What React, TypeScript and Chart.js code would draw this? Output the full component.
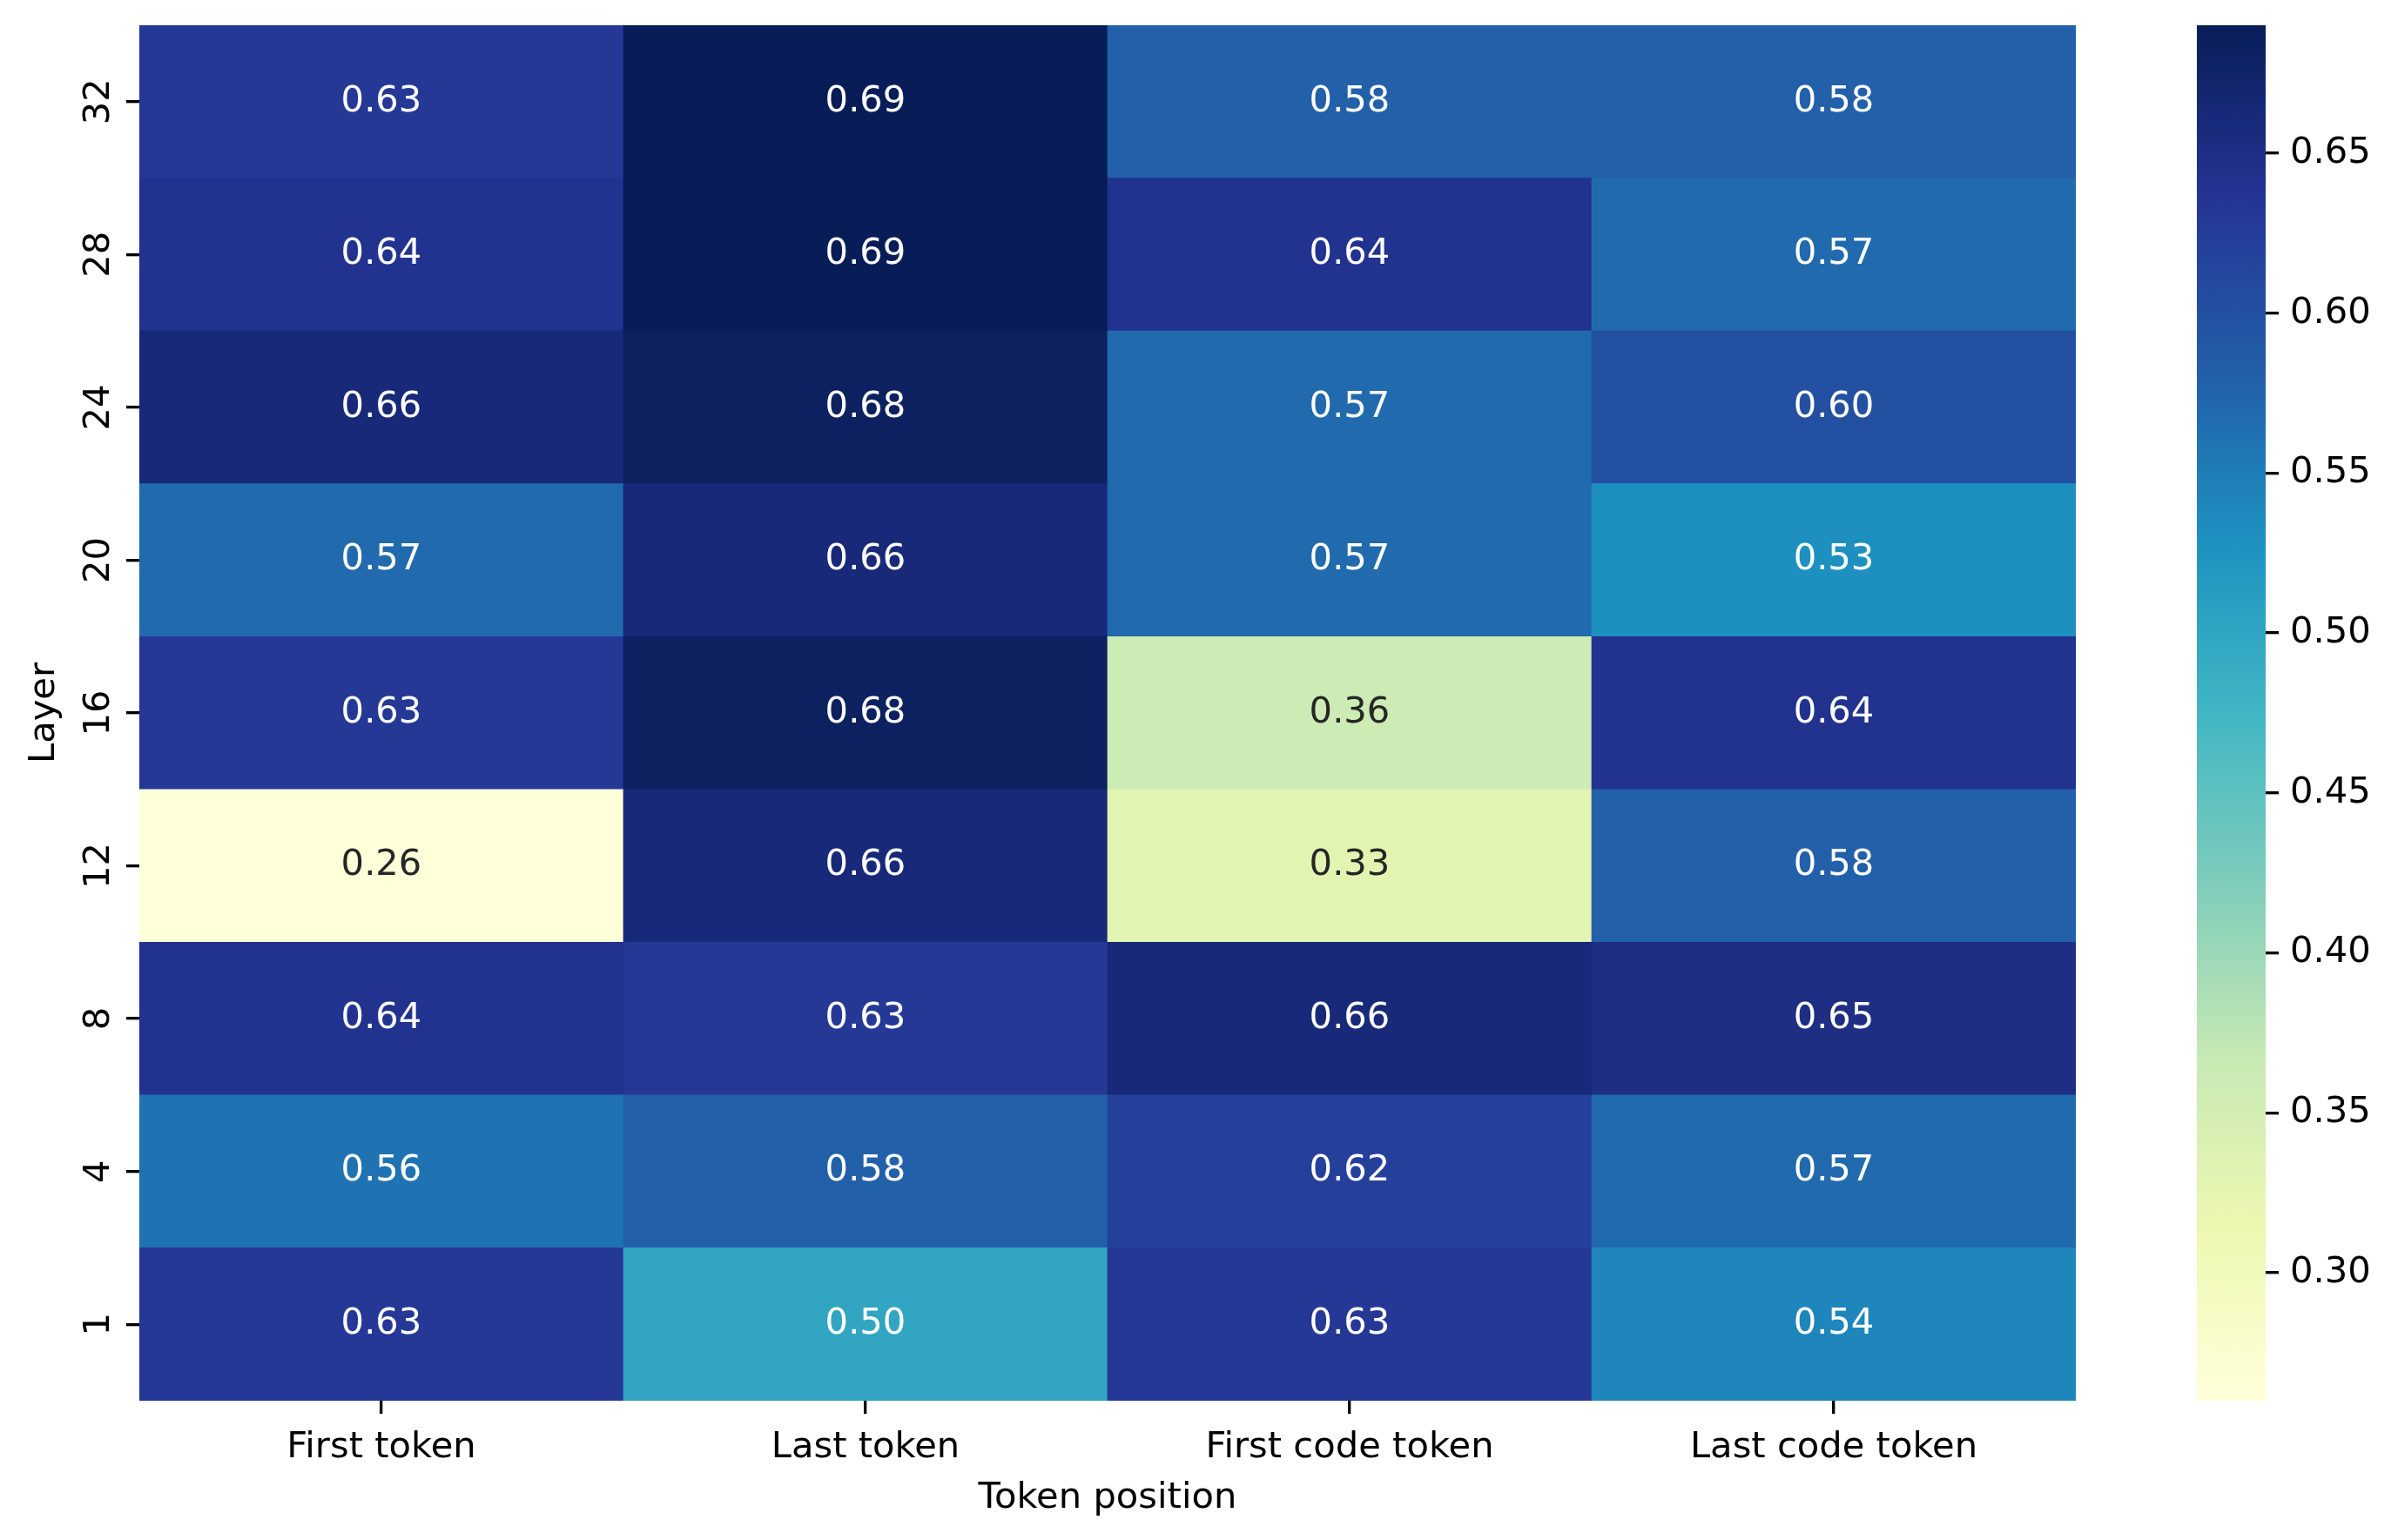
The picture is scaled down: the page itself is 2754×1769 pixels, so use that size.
import React, { useEffect, useRef } from "react";
import { Chart, registerables } from "chart.js";

Chart.register(...registerables);

// ---- data ----
const layers = ["1", "4", "8", "12", "16", "20", "24", "28", "32"];
const positions = ["First token", "Last token", "First code token", "Last code token"];
// values per token position, ordered by layer (1 .. 32)
const firstToken = [0.63, 0.56, 0.64, 0.26, 0.63, 0.57, 0.66, 0.64, 0.63];
const lastToken = [0.5, 0.58, 0.63, 0.66, 0.68, 0.66, 0.68, 0.69, 0.69];
const firstCodeToken = [0.63, 0.62, 0.66, 0.33, 0.36, 0.57, 0.57, 0.64, 0.58];
const lastCodeToken = [0.54, 0.57, 0.65, 0.58, 0.64, 0.53, 0.6, 0.57, 0.58];
const colorbarTicks = [0.3, 0.35, 0.4, 0.45, 0.5, 0.55, 0.6, 0.65];
const cmapStops = ["#ffffd9", "#edf8b1", "#c7e9b4", "#7fcdbb", "#41b6c4", "#1d91c0", "#225ea8", "#253494", "#081d58"];

const columns = [firstToken, lastToken, firstCodeToken, lastCodeToken];
const allVals = columns.flat();
const vmin = Math.min(...allVals);
const vmax = Math.max(...allVals);

const FS = 41.67;
const FONT = { family: "'DejaVu Sans'", size: FS };

function hexToRgb(h: string): number[] {
  return [parseInt(h.slice(1, 3), 16), parseInt(h.slice(3, 5), 16), parseInt(h.slice(5, 7), 16)];
}
const stopRgb = cmapStops.map(hexToRgb);

function cmapRgb(t: number): number[] {
  let idx = Math.floor(t * 256);
  if (idx > 255) idx = 255;
  if (idx < 0) idx = 0;
  const tt = idx / 255;
  const p = tt * (stopRgb.length - 1);
  const i = Math.min(Math.floor(p), stopRgb.length - 2);
  const f = p - i;
  const a = stopRgb[i];
  const b = stopRgb[i + 1];
  return [0, 1, 2].map((k) => a[k] + (b[k] - a[k]) * f);
}
function colorFor(v: number): string {
  const c = cmapRgb((v - vmin) / (vmax - vmin));
  return `rgb(${Math.round(c[0])},${Math.round(c[1])},${Math.round(c[2])})`;
}
function textColorFor(v: number): string {
  const c = cmapRgb((v - vmin) / (vmax - vmin)).map((x) => Math.round(x) / 255);
  const lin = c.map((x) => (x <= 0.03928 ? x / 12.92 : Math.pow((x + 0.055) / 1.055, 2.4)));
  const lum = 0.2126 * lin[0] + 0.7152 * lin[1] + 0.0722 * lin[2];
  return lum > 0.408 ? "#262626" : "#ffffff";
}

const tickGrid = {
  drawOnChartArea: false,
  drawTicks: true,
  tickLength: 15,
  lineWidth: 3.33,
  color: "#000",
};

function zeroPad(s: any) {
  s.paddingTop = 0;
  s.paddingBottom = 0;
  s.paddingLeft = 0;
  s.paddingRight = 0;
}

const annotatePlugin = {
  id: "annotate",
  afterDatasetsDraw(chart: any) {
    const ctx = chart.ctx;
    ctx.save();
    ctx.font = `${FS}px 'DejaVu Sans'`;
    ctx.textAlign = "center";
    ctx.textBaseline = "middle";
    chart.data.datasets.forEach((_ds: any, r: number) => {
      const meta = chart.getDatasetMeta(r);
      meta.data.forEach((bar: any, c: number) => {
        const v = columns[c][r];
        const p = bar.getProps(["x", "y", "base"], true);
        ctx.fillStyle = textColorFor(v);
        ctx.fillText(v.toFixed(2), p.x, (p.y + p.base) / 2);
      });
    });
    ctx.restore();
  },
};

export default function App() {
  const ref1 = useRef<HTMLCanvasElement>(null);
  const ref2 = useRef<HTMLCanvasElement>(null);

  useEffect(() => {
    Chart.defaults.color = "#000";
    Chart.defaults.font.family = "'DejaVu Sans'";

    const heat = new Chart(ref1.current!, {
      type: "bar",
      data: {
        labels: positions,
        datasets: layers.map((layer, r) => ({
          label: layer,
          data: positions.map(() => 1),
          backgroundColor: columns.map((col) => colorFor(col[r])),
          borderWidth: 0,
          barPercentage: 1,
          categoryPercentage: 1,
        })),
      },
      options: {
        animation: false,
        responsive: false,
        devicePixelRatio: 1,
        layout: { padding: { top: 29, right: 370, left: 0, bottom: 0 } },
        plugins: { legend: { display: false }, tooltip: { enabled: false } },
        scales: {
          x: {
            type: "category",
            stacked: true,
            offset: true,
            grid: { ...tickGrid, offset: false },
            border: { display: false },
            ticks: { padding: 14, font: FONT, maxRotation: 0, autoSkip: false, color: "#000" },
            title: { display: true, text: "Token position", padding: { top: 0, bottom: 23 }, font: FONT, color: "#000" },
            afterFit: (s: any) => {
              s.height = 160;
              zeroPad(s);
            },
          },
          y: {
            type: "linear",
            stacked: true,
            min: 0,
            max: layers.length,
            afterBuildTicks: (s: any) => {
              s.ticks = layers.map((_l, i) => ({ value: i + 0.5 }));
            },
            ticks: {
              callback: (_v: any, i: number) => layers[i],
              minRotation: 90,
              maxRotation: 90,
              crossAlign: "center",
              padding: 4,
              font: FONT,
              autoSkip: false,
              color: "#000",
            },
            grid: tickGrid,
            border: { display: false },
            title: { display: true, text: "Layer", padding: { top: 26, bottom: 0 }, font: FONT, color: "#000" },
            afterFit: (s: any) => {
              s.width = 160;
              zeroPad(s);
            },
          },
        },
      } as any,
      plugins: [annotatePlugin],
    });

    const cbar = new Chart(ref2.current!, {
      type: "bar",
      data: {
        labels: [""],
        datasets: [
          {
            data: [[vmin, vmax]] as any,
            backgroundColor: (c: any) => {
              const { ctx, chartArea } = c.chart;
              if (!chartArea) return cmapStops[4];
              const g = ctx.createLinearGradient(0, chartArea.bottom, 0, chartArea.top);
              cmapStops.forEach((s, i) => g.addColorStop(i / (cmapStops.length - 1), s));
              return g;
            },
            borderWidth: 0,
            barPercentage: 1,
            categoryPercentage: 1,
          },
        ],
      },
      options: {
        animation: false,
        responsive: false,
        devicePixelRatio: 1,
        layout: { padding: { left: 43, top: 29, bottom: 160, right: 0 } },
        plugins: { legend: { display: false }, tooltip: { enabled: false } },
        scales: {
          x: { display: false },
          y: {
            position: "right",
            min: vmin,
            max: vmax,
            afterBuildTicks: (s: any) => {
              s.ticks = colorbarTicks.map((v) => ({ value: v }));
            },
            ticks: { callback: (v: any) => Number(v).toFixed(2), padding: 13, font: FONT, color: "#000" },
            grid: tickGrid,
            border: { display: false },
            afterFit: (s: any) => {
              s.width = 152;
              zeroPad(s);
            },
          },
        },
      } as any,
    });

    return () => {
      heat.destroy();
      cbar.destroy();
    };
  }, []);

  return (
    <div style={{ position: "fixed", left: 0, top: 0, width: 2754, height: 1769, background: "#fff" }}>
      <canvas
        ref={ref1}
        width={2754}
        height={1769}
        style={{ position: "absolute", left: 0, top: 0, width: 2754, height: 1769 }}
      />
      <canvas
        ref={ref2}
        width={274}
        height={1769}
        style={{ position: "absolute", left: 2480, top: 0, width: 274, height: 1769 }}
      />
    </div>
  );
}
